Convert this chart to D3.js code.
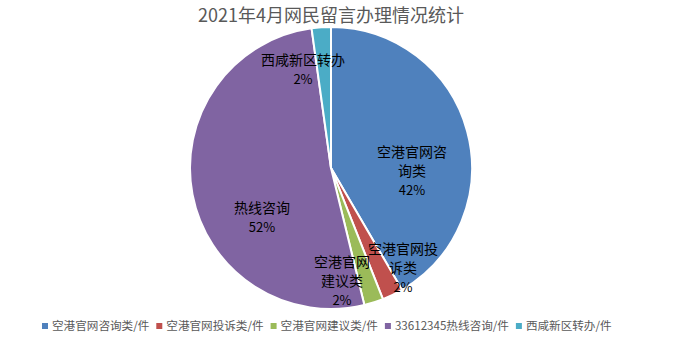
<!DOCTYPE html>
<html>
<head>
<meta charset="utf-8">
<script src="https://cdn.jsdelivr.net/npm/d3@7/dist/d3.min.js"></script>
<style>
  html, body { margin: 0; padding: 0; background: #fff; }
  svg { display: block; }
</style>
</head>
<body>
<svg id="chart" width="677" height="344"></svg>
<script>
// Message handling counts, April 2021
const legendNames = ["空港官网咨询类/件", "空港官网投诉类/件", "空港官网建议类/件", "33612345热线咨询/件", "西咸新区转办/件"];
const labelNames = ["空港官网咨询类", "空港官网投诉类", "空港官网建议类", "热线咨询", "西咸新区转办"];
const counts = [208, 12, 11, 258, 11];
const colors = ["#4F81BD", "#C0504D", "#9BBB59", "#8064A2", "#4BACC6"];

// label layout: characters per line and block offset from pie centre
const wrapChars = [5, 5, 4, 4, 6];
const labelOffset = [[81, 3], [72, 100], [11, 113], [-69, 50], [-28, -98]];

const W = 677, H = 344;
const cx = 331, cy = 168, radius = 141;
const cjk = "'Noto Sans CJK SC', 'Noto Sans', sans-serif";

const svg = d3.select("#chart");

svg.append("text")
  .attr("x", cx).attr("y", 22)
  .attr("text-anchor", "middle")
  .style("font-family", cjk)
  .style("font-size", "18px")
  .style("fill", "#595959")
  .text("2021年4月网民留言办理情况统计");

const data = counts.map((v, i) => ({ i, v }));
const total = d3.sum(counts);
const pie = d3.pie().value(d => d.v).sort(null);
const arc = d3.arc().innerRadius(0).outerRadius(radius);
const arcs = pie(data);

const g = svg.append("g").attr("transform", `translate(${cx},${cy})`);

g.selectAll("path.slice")
  .data(arcs)
  .join("path")
  .attr("class", "slice")
  .attr("d", arc)
  .attr("fill", d => colors[d.data.i])
  .attr("stroke", "#fff")
  .attr("stroke-width", 2)
  .attr("stroke-linejoin", "round");

// data labels: wrapped category name + rounded percentage
const lineH = 19;
arcs.forEach(a => {
  const i = a.data.i;
  const name = labelNames[i];
  const n = wrapChars[i];
  const lines = [];
  for (let k = 0; k < name.length; k += n) lines.push(name.slice(k, k + n));
  lines.push(Math.round(a.data.v / total * 100) + "%");
  const [ox, oy] = labelOffset[i];
  const top = oy - (lines.length - 1) * lineH / 2;
  const t = g.append("text")
    .attr("text-anchor", "middle")
    .style("font-family", cjk)
    .style("font-size", "14px")
    .style("fill", "#000");
  lines.forEach((ln, k) => {
    t.append("tspan")
      .attr("x", ox)
      .attr("y", top + k * lineH)
      .attr("dy", "0.35em")
      .style("font-size", k === lines.length - 1 ? "13px" : "14px")
      .text(ln);
  });
});

// legend along the bottom
const legend = svg.append("g").attr("transform", "translate(42,326)");
let x = 0;
legendNames.forEach((name, i) => {
  const item = legend.append("g").attr("transform", `translate(${x},0)`);
  item.append("rect")
    .attr("x", 0).attr("y", -3)
    .attr("width", 6).attr("height", 6)
    .attr("fill", colors[i]);
  const txt = item.append("text")
    .attr("x", 10).attr("y", 0).attr("dy", "0.35em")
    .style("font-family", cjk)
    .style("font-size", "11.6px")
    .style("fill", "#595959")
    .text(name);
  x += 10 + txt.node().getComputedTextLength() + 7;
});
</script>
</body>
</html>
